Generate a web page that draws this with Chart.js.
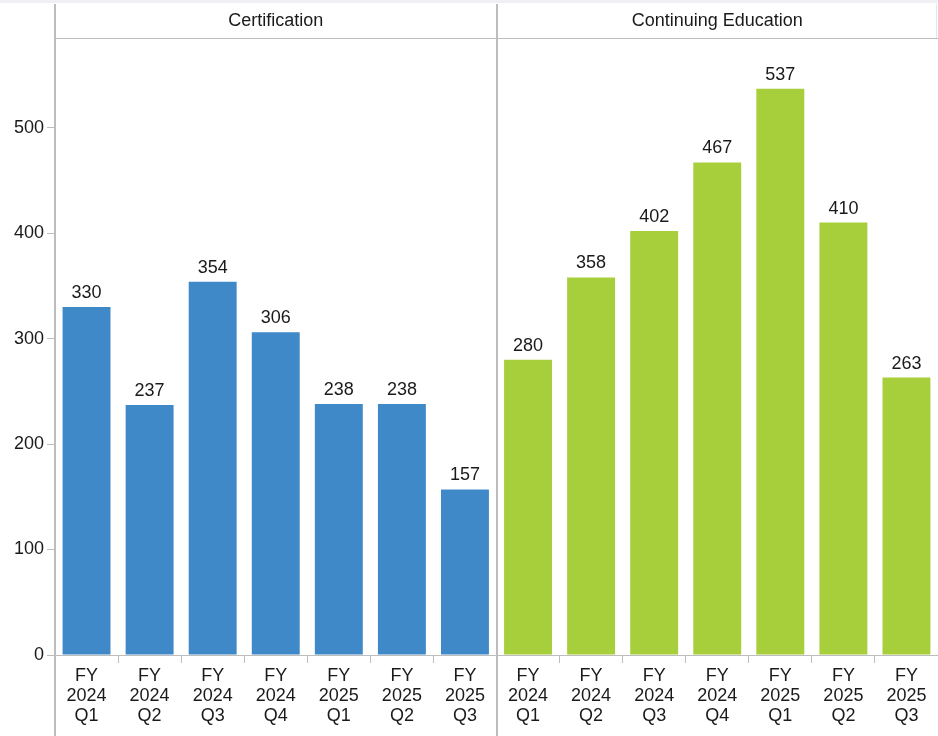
<!DOCTYPE html>
<html>
<head>
<meta charset="utf-8">
<script src="https://cdn.jsdelivr.net/npm/chart.js@4.4.1/dist/chart.umd.min.js"></script>
<style>
  html, body { margin: 0; padding: 0; background: #fff; }
  #wrap { position: relative; width: 938px; height: 736px; }
  #topband { position: absolute; left: 0; top: 0; width: 938px; height: 3px; background: #eef0f4; }
</style>
</head>
<body>
<div id="wrap">
  <canvas id="chart" width="938" height="736"></canvas>
  <div id="topband"></div>
</div>
<script>
const panels = ['Certification', 'Continuing Education'];
const quarters = [
    ['FY', '2024', 'Q1'], ['FY', '2024', 'Q2'], ['FY', '2024', 'Q3'], ['FY', '2024', 'Q4'],
    ['FY', '2025', 'Q1'], ['FY', '2025', 'Q2'], ['FY', '2025', 'Q3']
];
const certification = [330, 237, 354, 306, 238, 238, 157];
const continuingEd = [280, 358, 402, 467, 537, 410, 263];
const yTicks = [0, 100, 200, 300, 400, 500];

const BLUE = '#4089c9';
const GREEN = '#a7cf3b';
const LINE = '#bdbdbd';
const FONT = '"Liberation Sans", Arial, sans-serif';

const labels = [...quarters, ...quarters];
const values = [...certification, ...continuingEd];
const colors = [...certification.map(() => BLUE), ...continuingEd.map(() => GREEN)];

// valores encima de las barras + cabeceras de panel + lineas
const decoraciones = {
    id: 'decoraciones',
    afterDatasetsDraw(chart) {
        const ctx = chart.ctx;
        const area = chart.chartArea;
        const meta = chart.getDatasetMeta(0);
        ctx.save();
        ctx.fillStyle = '#1a1a1a';
        ctx.font = '18px ' + FONT;
        ctx.textAlign = 'center';
        ctx.textBaseline = 'bottom';
        meta.data.forEach((bar, i) => {
            ctx.fillText(String(values[i]), bar.x, bar.y - 5);
        });

        const mid = (area.left + area.right) / 2;
        ctx.textBaseline = 'middle';
        ctx.fillText(panels[0], (area.left + mid) / 2, 21);
        ctx.fillText(panels[1], (mid + area.right) / 2, 21);

        ctx.strokeStyle = LINE;
        ctx.lineWidth = 1;
        ctx.beginPath();
        ctx.moveTo(area.left, area.top + 0.5);
        ctx.lineTo(area.right, area.top + 0.5);
        ctx.stroke();

        ctx.lineWidth = 2;
        ctx.beginPath();
        ctx.moveTo(area.left, 4);
        ctx.lineTo(area.left, chart.height);
        ctx.moveTo(Math.round(mid), 4);
        ctx.lineTo(Math.round(mid), chart.height);
        ctx.stroke();

        ctx.strokeStyle = '#e6e6e6';
        ctx.lineWidth = 1;
        ctx.beginPath();
        ctx.moveTo(chart.width - 1.5, 4);
        ctx.lineTo(chart.width - 1.5, area.top);
        ctx.stroke();
        ctx.restore();
    }
};

new Chart(document.getElementById('chart'), {
    type: 'bar',
    data: {
        labels,
        datasets: [{
            data: values,
            backgroundColor: colors,
            borderWidth: 0,
            barPercentage: 0.76,
            categoryPercentage: 1
        }]
    },
    options: {
        responsive: false,
        animation: false,
        layout: { padding: { top: 38, right: 0, left: 0, bottom: 0 } },
        plugins: { legend: { display: false }, tooltip: { enabled: false } },
        scales: {
            x: {
                offset: true,
                grid: { drawOnChartArea: false, tickLength: 8, color: LINE, offset: true },
                border: { color: LINE, width: 1 },
                ticks: {
                    color: '#1a1a1a',
                    font: { family: FONT, size: 18, lineHeight: 1.12 },
                    padding: 3,
                    maxRotation: 0,
                    autoSkip: false
                },
                afterFit(scale) { scale.height = 81; }
            },
            y: {
                min: 0,
                max: 585,
                afterBuildTicks(scale) { scale.ticks = yTicks.map(v => ({ value: v })); },
                grid: { drawOnChartArea: false, tickLength: 8, color: LINE },
                border: { color: LINE, width: 2 },
                ticks: {
                    color: '#1a1a1a',
                    font: { family: FONT, size: 18 },
                    padding: 3
                },
                afterFit(scale) { scale.width = 55; }
            }
        }
    },
    plugins: [decoraciones]
});
</script>
</body>
</html>
